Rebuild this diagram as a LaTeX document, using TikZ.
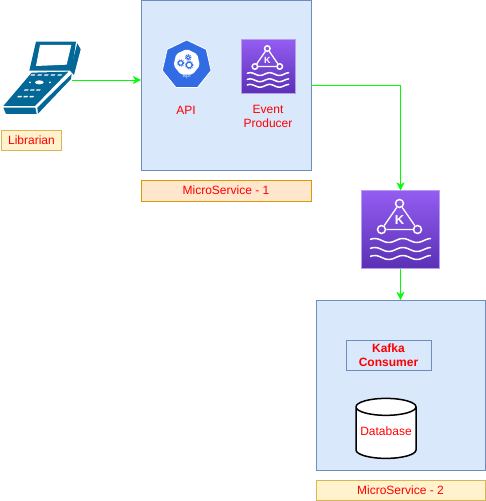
\documentclass[tikz,border=0pt]{standalone}
\usepackage{fontspec}
\usepackage{xcolor}
\usetikzlibrary{arrows.meta,shapes.geometric}
\setmainfont{Liberation Sans}

\definecolor{panelblue}{HTML}{DAE8FC}
\definecolor{panelline}{HTML}{6C8EBF}
\definecolor{tagyellow}{HTML}{FFF2CC}
\definecolor{tagyellowline}{HTML}{D6B656}
\definecolor{tagorange}{HTML}{FFE6CC}
\definecolor{tagorangeline}{HTML}{D79B00}
\definecolor{flowgreen}{HTML}{00FF00}
\definecolor{devblue}{HTML}{036897}
\definecolor{apiblue}{HTML}{326CE5}
\definecolor{kafkatop}{HTML}{945DF2}
\definecolor{kafkabottom}{HTML}{5A30B5}
\definecolor{kafkaline}{HTML}{B79CF0}

\tikzset{
    service/.style={draw=panelline,fill=panelblue,minimum width=170pt,minimum height=170pt,inner sep=0pt},
    tag/.style={draw=#1line,fill=#1,text=red,inner sep=0pt,font=\fontsize{12}{14}\selectfont},
    redtext/.style={text=red,align=center,font=\fontsize{12}{14}\selectfont},
    flow/.style={draw=flowgreen,-{Stealth[length=8pt,width=8pt,inset=2.5pt]}},
    kafkabox/.style={draw=kafkaline,top color=kafkatop,bottom color=kafkabottom,inner sep=0pt,minimum size=#1},
    kafka/.pic={
        \node[circle,draw=white,line width=1.5pt,minimum size=8pt,inner sep=0pt,transform shape] (-top) at (-1,26) {};
        \node[circle,draw=white,line width=1.5pt,minimum size=8pt,inner sep=0pt,transform shape] (-left) at (-19,0) {};
        \node[circle,draw=white,line width=1.5pt,minimum size=8pt,inner sep=0pt,transform shape] (-right) at (17,0) {};
        \draw[white,line width=1.3pt] (-top) -- (-left) -- (-right) -- (-top);
        \node[text=white,inner sep=0pt,transform shape,font=\fontsize{13}{13}\selectfont\bfseries] (-letter) at (-1,9) {K};
        \foreach \wavey in {-11,-20,-28}
            \draw[white,line width=1.5pt,line cap=round,shift={(0,\wavey)}] plot[smooth,samples=41,domain=-30:30] (\x,{2*sin(12.8*\x+60)});
    },
    device/.pic={
        % Lid
        \fill[devblue] (108,35) -- (228,35) -- (215,122) -- (88,122) -- cycle;
        \fill[white] (120,45) -- (214,45) -- (200,104) -- (108,108) -- cycle;
        \fill[devblue] (232,40) -- (242,58) -- (222,135) -- (210,122) -- cycle;
        % Keypad
        \fill[devblue] (10,228) -- (95,128) -- (205,125) -- (105,228) -- cycle;
        \fill[devblue] (10,233) -- (106,233) -- (110,252) -- (18,252) -- cycle;
        \fill[devblue] (112,233) -- (215,132) -- (213,147) -- (114,251) -- cycle;
        % Keys
        \foreach \keyx/\keyy in {100/135,120/135,140/135,160/135,180/135,80/180,98/180,116/180,60/200,78/200,96/200}
            \fill[white] (\keyx,\keyy) ++(-6,-2) -- ++(12,0) -- ++(-2,4) -- ++(-12,0) -- cycle;
        \fill[white] (118,157) ellipse (13 and 6);
        \fill[white] (90,157) circle (3);
        \fill[white] (150,157) circle (3);
    },
    gear/.style={draw=apiblue,fill=white,line width=0.9pt},
    gearteeth/.style={draw=apiblue,line width=1.2pt,dash pattern=on 0.9pt off 0.9pt},
}

\begin{document}
\begin{tikzpicture}[x=1pt,y=1pt]
    \useasboundingbox (0,0) rectangle (486,501);
    % Services
    \node[service] (ms1) at (226,416) {};
    \node[service,minimum width=169pt] (ms2) at (400.5,116) {};
    \node[tag=tagorange,minimum width=170pt,minimum height=21pt] (ms1tag) at (226,310.5) {MicroService - 1};
    \node[tag=tagyellow,minimum width=169pt,minimum height=20pt] (ms2tag) at (400.5,11) {MicroService - 2};
    % Librarian
    \pic at (0,471) [xscale=1/3,yscale=-1/3] {device};
    \coordinate (deviceout) at (72,421);
    \node[tag=tagyellow,minimum width=60pt,minimum height=20pt] (librarian) at (31.5,360.5) {Librarian};
    % API
    \node[regular polygon,regular polygon sides=7,draw=white,fill=apiblue,line width=0.8pt,minimum size=50pt,inner sep=0pt] (api) at (186.7,436) {};
    \node[regular polygon,regular polygon sides=7,fill=white,rounded corners=2pt,minimum size=27pt,inner sep=0pt] (apicore) at (186.7,438.5) {};
    \foreach \gearx/\geary/\gearr in {-6/-0.5/2.6,1.5/5/2.2,2.5/-2.5/3.2}{
        \draw[gearteeth] (186.7+\gearx,438.5+\geary) circle (\gearr+0.5);
        \draw[gear] (186.7+\gearx,438.5+\geary) circle (\gearr-0.4);
    }
    \node[text=panelblue,inner sep=0pt,font=\fontsize{6}{6}\selectfont] (apiword) at (186.7,425) {api};
    \node[redtext] (apitext) at (186,391) {API};
    % Event producer
    \node[kafkabox=54pt] (producer) at (268,434.5) {};
    \pic (producericon) at (producer) [scale=0.69,line width=1pt] {kafka};
    \node[redtext] (producertext) at (268,385) {Event\\Producer};
    % Kafka broker
    \node[kafkabox=78pt] (broker) at (400.5,271.5) {};
    \pic (brokericon) at (broker) {kafka};
    % Consumer and database
    \node[draw=panelline,fill=panelblue,minimum width=85pt,minimum height=30pt,inner sep=0pt] (consumer) at (388.5,146) {};
    \node[redtext,font=\fontsize{12}{14}\selectfont\bfseries] (consumertext) at (388.5,146) {Kafka\\Consumer};
    \node[cylinder,shape border rotate=90,aspect=0.33,draw=black,fill=white,line width=1.5pt,minimum width=60pt,minimum height=60pt,inner sep=0pt,text=red,font=\fontsize{12}{14}\selectfont] (database) at (386,68) {\raisebox{3pt}{Database}};
    % Edges
    \draw[flow] (deviceout) -- (ms1.west |- deviceout);
    \draw[flow] (ms1.east) -| (broker.north);
    \draw[flow] (broker.south) -- (ms2.north -| broker.south);
\end{tikzpicture}
\end{document}
